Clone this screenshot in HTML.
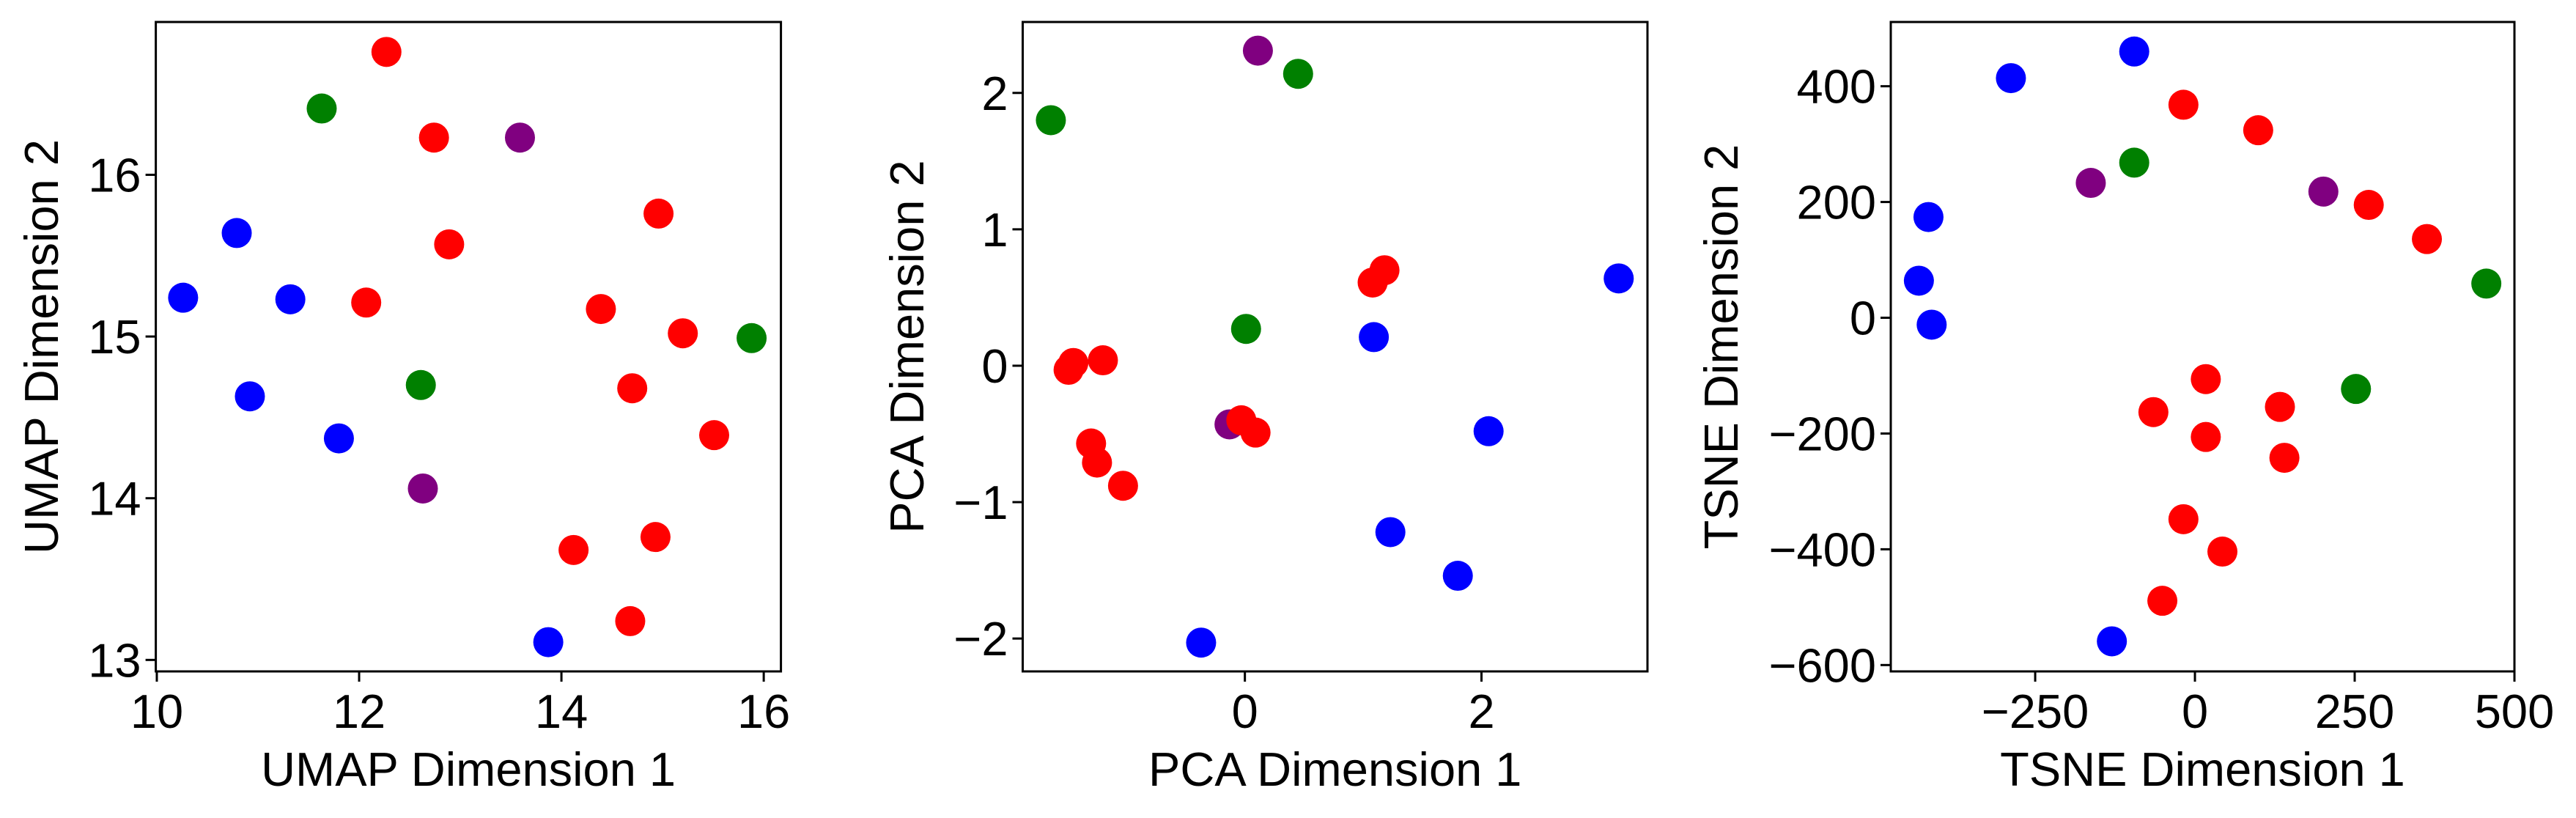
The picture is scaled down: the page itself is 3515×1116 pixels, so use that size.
<!DOCTYPE html>
<html><head><meta charset="utf-8">
<style>
html,body{margin:0;padding:0;background:#fff;}
svg{display:block;font-family:"Liberation Sans",Arial,sans-serif;}
</style></head>
<body>
<svg id="fig" width="3515" height="1116" viewBox="0 0 3515 1116" xmlns="http://www.w3.org/2000/svg"></svg>
<script>
// ---- Data ----
const umapColors = ["blue","blue","blue","blue","blue","blue","green","green","green","purple","purple","red","red","red","red","red","red","red","red","red","red","red","red"];
const umapX = [10.26,10.79,11.32,10.92,11.80,13.87, 11.63,12.61,15.88, 13.59,12.63, 12.27,12.74,12.89,12.07,14.96,14.39,15.20,14.70,15.51,14.12,14.93,14.68];
const umapY = [15.24,15.64,15.23,14.63,14.37,13.11, 16.41,14.70,14.99, 16.23,14.06, 16.76,16.23,15.57,15.21,15.76,15.17,15.02,14.68,14.39,13.68,13.76,13.24];
const umapXTicks = [10,12,14,16];
const umapYTicks = [13,14,15,16];

const pcaColors = ["green","green","green","purple","purple","red","red","red","red","red","red","red","red","red","red","blue","blue","blue","blue","blue","blue"];
const pcaX = [-1.64,0.45,0.01, 0.11,-0.13, 1.08,1.18,-1.49,-1.45,-1.20,-1.30,-1.25,-1.03,-0.03,0.09, 3.16,1.09,2.06,1.23,1.80,-0.37];
const pcaY = [1.80,2.14,0.27, 2.31,-0.43, 0.61,0.70,-0.03,0.02,0.04,-0.57,-0.71,-0.88,-0.40,-0.49, 0.64,0.21,-0.48,-1.22,-1.54,-2.03];
const pcaXTicks = [0,2];
const pcaYTicks = [-2,-1,0,1,2];

const tsneColors = ["blue","blue","blue","blue","blue","blue","green","green","green","purple","purple","red","red","red","red","red","red","red","red","red","red","red","red"];
const tsneX = [-95,-288,-417,-432,-412,-130, -95,456,252, -163,201, -18,99,272,363,17,-65,17,133,140,-18,43,-51];
const tsneY = [460,414,174,64,-12,-559, 268,59,-123, 233,218, 368,324,195,136,-106,-163,-206,-154,-242,-348,-404,-489];
const tsneXTicks = [-250,0,250,500];
const tsneYTicks = [-600,-400,-200,0,200,400];

const NS="http://www.w3.org/2000/svg";
const svg=document.getElementById('fig');
function mk(tag,attrs,parent){const e=document.createElementNS(NS,tag);for(const k in attrs)e.setAttribute(k,attrs[k]);(parent||svg).appendChild(e);return e;}
function fmt(v){return v<0?"\u2212"+Math.abs(v):String(v);}

function panel(cfg){
  const g=mk('g',{});
  
  
  const sx=v=>cfg.L+(v-cfg.xmin)/(cfg.xmax-cfg.xmin)*(cfg.R-cfg.L);
  const sy=v=>cfg.B-(v-cfg.ymin)/(cfg.ymax-cfg.ymin)*(cfg.B-cfg.T);
  // points
  for(let i=0;i<cfg.xs.length;i++){
    const c=mk('circle',{cx:sx(cfg.xs[i]),cy:sy(cfg.ys[i]),r:20.5,fill:cfg.cols[i]},g);
    
    
  }
  // frame
  const f=mk('rect',{x:cfg.L,y:cfg.T,width:cfg.R-cfg.L,height:cfg.B-cfg.T,fill:'none',stroke:'#000','stroke-width':3},g);
  
  
  // x ticks
  cfg.xt.forEach(v=>{
    const x=sx(v);
    mk('line',{x1:x,x2:x,y1:cfg.B,y2:cfg.B+14,stroke:'#000','stroke-width':3},g);
    const t=mk('text',{x:x,y:993,'font-size':65,'text-anchor':'middle'},g);
    t.textContent=fmt(v);
    
    
  });
  cfg.yt.forEach(v=>{
    const y=sy(v);
    mk('line',{x1:cfg.L-14,x2:cfg.L,y1:y,y2:y,stroke:'#000','stroke-width':3},g);
    const t=mk('text',{x:cfg.L-20,y:y+23,'font-size':65,'text-anchor':'end'},g);
    t.textContent=fmt(v);
    
    
  });
  const xl=mk('text',{x:(cfg.L+cfg.R)/2,y:1072,'font-size':65,'text-anchor':'middle'},g);
  xl.textContent=cfg.xlabel;
  
  
  const cy=(cfg.T+cfg.B)/2;
  const yl=mk('text',{x:cfg.ylx,y:cy,'font-size':65,'text-anchor':'middle',transform:`rotate(-90 ${cfg.ylx} ${cy})`},g);
  yl.setAttribute('x',cfg.ylx);yl.setAttribute('y',cy);
  yl.setAttribute('transform',`rotate(-90 ${cfg.ylx} ${cy})`);
  yl.setAttribute('dy','0');
  yl.textContent=cfg.ylabel;
  
  
}

panel({name:'umap',L:212.6,R:1065.6,T:30,B:916,xmin:9.99,xmax:16.17,ymin:12.929,ymax:16.945,
  xs:umapX,ys:umapY,cols:umapColors,xt:umapXTicks,yt:umapYTicks,xlabel:'UMAP Dimension 1',ylabel:'UMAP Dimension 2',ylx:79});
panel({name:'pca',L:1395.5,R:2248,T:30,B:916,xmin:-1.878,xmax:3.403,ymin:-2.241,ymax:2.52,
  xs:pcaX,ys:pcaY,cols:pcaColors,xt:pcaXTicks,yt:pcaYTicks,xlabel:'PCA Dimension 1',ylabel:'PCA Dimension 2',ylx:1260});
panel({name:'tsne',L:2580,R:3431,T:30,B:916,xmin:-476,xmax:500,ymin:-611,ymax:511,
  xs:tsneX,ys:tsneY,cols:tsneColors,xt:tsneXTicks,yt:tsneYTicks,xlabel:'TSNE Dimension 1',ylabel:'TSNE Dimension 2',ylx:2371});
</script>
</body></html>
